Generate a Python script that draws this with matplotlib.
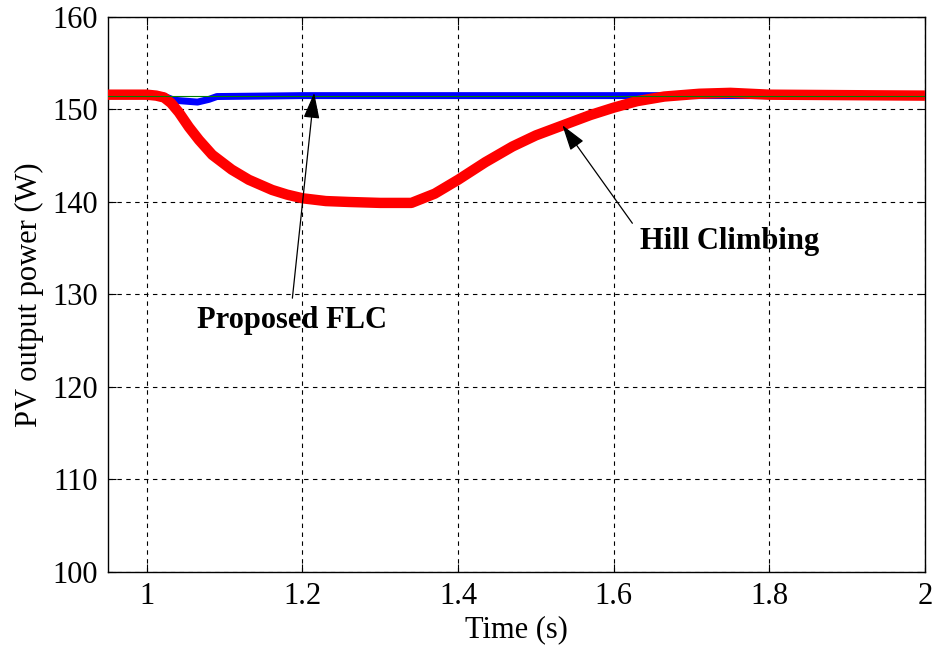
import matplotlib
matplotlib.use('Agg')
import matplotlib.pyplot as plt

# Hill climbing response (red)
t_hc = [0.95, 1.0, 1.012, 1.022, 1.031, 1.041, 1.054, 1.067, 1.084, 1.109, 1.131, 1.161, 1.18, 1.2, 1.23,
        1.26, 1.30, 1.34, 1.37, 1.4, 1.435, 1.47, 1.50, 1.535, 1.57, 1.6, 1.63, 1.665, 1.71,
        1.75, 1.8, 2.0]
p_hc = [151.6, 151.6, 151.5, 151.3, 150.7, 149.7, 148.1, 146.7, 145.1, 143.5, 142.4, 141.3, 140.8, 140.4, 140.1,
        140.0, 139.9, 139.9, 140.9, 142.4, 144.3, 146.0, 147.2, 148.3, 149.4, 150.2, 150.9, 151.4, 151.7,
        151.8, 151.6, 151.5]

# Proposed FLC response (blue)
t_flc = [0.95, 1.02, 1.035, 1.05, 1.065, 1.08, 1.09, 1.2, 1.4, 1.6, 1.7, 2.0]
p_flc = [151.5, 151.5, 151.0, 150.9, 150.8, 151.1, 151.4, 151.5, 151.5, 151.5, 151.5, 151.5]

# reference max power (green)
t_ref = [0.95, 2.0]
p_ref = [151.5, 151.5]

xticks = [1, 1.2, 1.4, 1.6, 1.8, 2]
xticklabels = ['1', '1.2', '1.4', '1.6', '1.8', '2']
yticks = [100, 110, 120, 130, 140, 150, 160]

plt.rcParams['font.family'] = ['Liberation Serif', 'DejaVu Serif']

fig = plt.figure(figsize=(9.39, 6.46), dpi=100)
ax = fig.add_axes([0.115, 0.1146, 0.870, 0.8591])

ax.plot(t_flc, p_flc, color='#0000ff', lw=5.0, solid_capstyle='butt', zorder=3)
ax.plot(t_hc, p_hc, color='#ff0000', lw=7.5, solid_capstyle='butt', solid_joinstyle='round', zorder=4)
ax.plot(t_ref, p_ref, color='#008000', lw=0.8, zorder=5)

ax.set_xlim(0.95, 2.0)
ax.set_ylim(100, 160)
ax.set_xticks(xticks)
ax.set_xticklabels(xticklabels)
ax.set_yticks(yticks)
ax.tick_params(direction='in', length=6, labelsize=22, top=True, right=True, pad=7)
ax.grid(True, color='black', linestyle=(0, (4, 4)), linewidth=0.8)
for s in ax.spines.values():
    s.set_linewidth(1.0)

ax.set_xlabel('Time (s)', fontsize=22, labelpad=3)
ax.set_ylabel('PV output power (W)', fontsize=22, labelpad=6)

arrow = dict(arrowstyle='-|>,head_length=1.6,head_width=0.5', color='black', lw=0.9,
             shrinkA=0, shrinkB=0)
ax.annotate('', xy=(1.215, 151.8), xytext=(1.187, 129.6), arrowprops=arrow, zorder=6)
ax.text(1.187, 127.2, 'Proposed FLC', fontsize=22, fontweight='bold', ha='center', va='center')
ax.annotate('', xy=(1.534, 148.3), xytext=(1.624, 137.7), arrowprops=arrow, zorder=6)
ax.text(1.749, 135.7, 'Hill Climbing', fontsize=22, fontweight='bold', ha='center', va='center')

fig.savefig('out.png', dpi=100)
